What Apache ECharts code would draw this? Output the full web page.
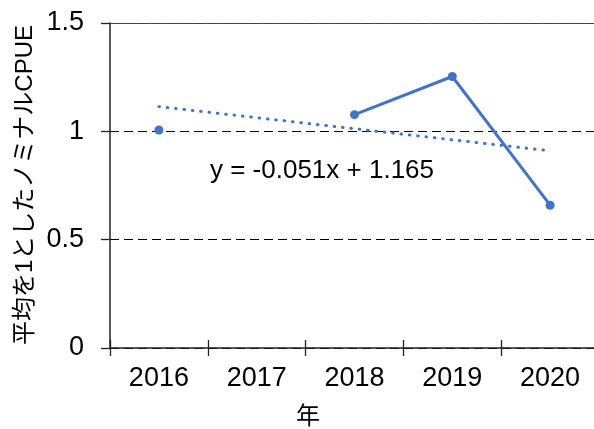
<!DOCTYPE html>
<html><head><meta charset="utf-8">
<script src="https://cdn.jsdelivr.net/npm/echarts@6/dist/echarts.min.js"></script>
<style>html,body{margin:0;padding:0;background:#fff}#c{width:594px;height:429px}</style>
</head><body><div id="c"></div>
<script>
const categories = ['2016','2017','2018','2019','2020'];
const cpue = [1.006, null, 1.077, 1.253, 0.659];
const trend = [1.114, null, null, null, 0.910];
const yTicks = [0, 0.5, 1, 1.5];
const equation = 'y = -0.051x + 1.165';
const yTitle = '平均を1としたノミナルCPUE';
const xTitle = '年';

const FONT = 'Liberation Sans, Arial, Noto Sans CJK JP, sans-serif';
const chart = echarts.init(document.getElementById('c'), null, {renderer:'canvas'});
chart.setOption({
  animation:false,
  grid:{left:110, width:489, top:23, height:325, containLabel:false, outerBoundsMode:'none'},
  xAxis:[{
    type:'category', data:categories, boundaryGap:true, position:'bottom',
    axisLine:{show:true, lineStyle:{color:'#222', width:1.5}},
    axisTick:{show:true, length:8, lineStyle:{color:'#222', width:1.3}},
    axisLabel:{fontFamily:FONT, fontSize:27, color:'#000', margin:17},
    splitLine:{show:false}
  },{
    type:'category', data:categories, boundaryGap:true, position:'bottom',
    axisLine:{show:false},
    axisTick:{show:true, inside:true, length:8, lineStyle:{color:'#222', width:1.3}},
    axisLabel:{show:false}, splitLine:{show:false}
  },{
    type:'category', data:categories, boundaryGap:true, position:'top',
    axisLine:{show:true, lineStyle:{color:'#444', width:1.2, type:[6,1]}},
    axisTick:{show:false}, axisLabel:{show:false}, splitLine:{show:false}
  }],
  yAxis:{
    type:'value', min:yTicks[0], max:yTicks[yTicks.length-1], interval:0.5,
    axisLine:{show:true, lineStyle:{color:'#222', width:1.5}},
    axisTick:{show:true, length:9, lineStyle:{color:'#222', width:1.3}},
    axisLabel:{fontFamily:FONT, fontSize:27, color:'#000', margin:26,
      formatter:v=>String(v)},
    splitLine:{show:true, lineStyle:{color:'#000', width:1.2, type:[9,5]}}
  },
  graphic:[
    {type:'text', x:25, y:185, rotation:Math.PI/2,
     style:{text:yTitle, font:'24px '+FONT, fill:'#000', textAlign:'center', textVerticalAlign:'middle'}},
    {type:'text', x:308, y:417,
     style:{text:xTitle, font:'24px '+FONT, fill:'#000', textAlign:'center', textVerticalAlign:'middle'}},
    {type:'text', x:322, y:171,
     style:{text:equation, font:'26px '+FONT, fill:'#000', textAlign:'center', textVerticalAlign:'middle'}}
  ],
  series:[
    {type:'line', data:trend, connectNulls:true, symbol:'none', z:2,
     lineStyle:{color:'#4472C4', width:3, type:[0.6,7.8], cap:'round'}},
    {type:'line', data:cpue, connectNulls:false, symbol:'circle', symbolSize:9, z:3,
     itemStyle:{color:'#4472C4'}, lineStyle:{color:'#4472C4', width:3}}
  ]
});
</script></body></html>
